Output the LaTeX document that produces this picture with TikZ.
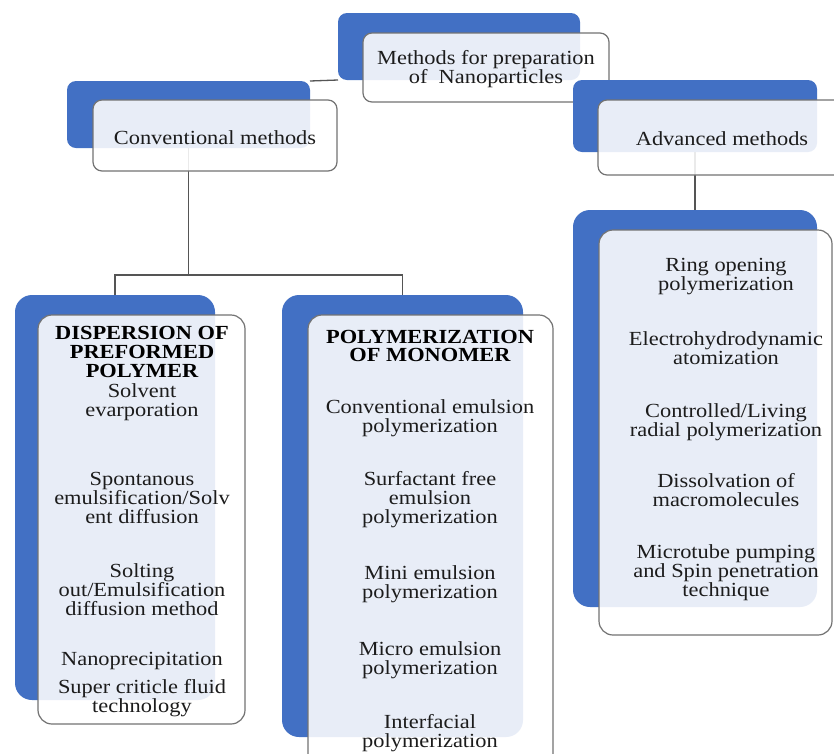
\documentclass[tikz,border=0pt]{standalone}
\usepackage{fontspec}
\setmainfont{Liberation Serif}[FakeStretch=1.12]
\definecolor{myblue}{RGB}{66,112,196}
\definecolor{boxline}{RGB}{115,115,115}
\definecolor{connline}{RGB}{85,85,85}
\definecolor{txtcol}{RGB}{28,28,28}
\pgfdeclarelayer{bg}
\pgfsetlayers{bg,main}
\tikzset{
  bbox/.style={anchor=north west, inner sep=0pt, outer sep=0pt, fill=myblue, draw=none, rounded corners=9pt},
  bcol/.style={bbox, rounded corners=17pt},
  wbox/.style={anchor=north west, inner sep=0pt, outer sep=0pt, fill=white, fill opacity=0.88, draw=boxline, line width=1.2pt, rounded corners=9pt},
  wcol/.style={wbox, rounded corners=14pt},
  txt/.style={align=center, inner sep=0pt, text=txtcol, font=\fontsize{20}{19}\selectfont},
  hdr/.style={txt, font=\fontsize{20}{18.6}\selectfont\bfseries, text=black},
  conn/.style={draw=connline, line width=1.3pt}
}
\begin{document}
\begin{tikzpicture}[x=1pt,y=-1pt]
\useasboundingbox (0,0) rectangle (834,753);
\clip (0,0) rectangle (834,753);
% top
\node[bbox, minimum width=242, minimum height=67] (topb) at (338,13) {};
\node[wbox, minimum width=246, minimum height=69] (topw) at (363,33) {};
\node[txt] (toptxt) at (486,69) {Methods for preparation\\of~ Nanoparticles};
% conventional
\node[bbox, minimum width=243, minimum height=67] (convb) at (67,81) {};
\node[wbox, minimum width=244, minimum height=71] (convw) at (93,100) {};
\node[txt] (convtxt) at (215,138) {Conventional methods};
% advanced
\node[bbox, minimum width=244, minimum height=72] (advb) at (573,80) {};
\node[wbox, minimum width=250, minimum height=75] (advw) at (598,100) {};
\node[txt] (advtxt) at (722,139) {Advanced methods};
% left column
\node[bcol, minimum width=200, minimum height=405] (leftb) at (15,295) {};
\node[wcol, minimum width=207, minimum height=409] (leftw) at (38,315) {};
% middle column
\node[bcol, minimum width=241, minimum height=442] (midb) at (282,295) {};
\node[wcol, minimum width=245, minimum height=455] (midw) at (308,315) {};
% right column
\node[bcol, minimum width=244, minimum height=397] (rightb) at (573,210) {};
\node[wcol, minimum width=233, minimum height=405] (rightw) at (599,230) {};
% connectors
\coordinate (j) at (188,275);
\begin{pgfonlayer}{bg}
\fill[white] (0,0) rectangle (834,753);
\draw[conn] (convb.north east) -- (topb.south west);
\draw[conn] (convb.center) -- (convb.center |- j);
\draw[conn] (leftb.center) |- (j) -| (midb.center);
\draw[conn] (advb.center) -- (rightb.center);
\end{pgfonlayer}
% left texts
\node[hdr] (l0) at (142,352) {DISPERSION OF\\PREFORMED\\POLYMER};
\node[txt] (l1) at (142,402) {Solvent\\evarporation};
\node[txt] (l2) at (142,498) {Spontanous\\emulsification/Solv\\ent diffusion};
\node[txt] (l3) at (142,590) {Solting\\out/Emulsification\\diffusion method};
\node[txt] (l4) at (142,661) {Nanoprecipitation};
\node[txt] (l5) at (142,698) {Super criticle fluid\\technology};
% middle texts
\node[hdr] (m0) at (430,346) {POLYMERIZATION\\OF MONOMER};
\node[txt] (m1) at (430,418) {Conventional emulsion\\polymerization};
\node[txt] (m2) at (430,500) {Surfactant free\\emulsion\\polymerization};
\node[txt] (m3) at (430,584) {Mini emulsion\\polymerization};
\node[txt] (m4) at (430,660) {Micro emulsion\\polymerization};
\node[txt] (m5) at (430,733) {Interfacial\\polymerization};
% right texts
\node[txt] (r1) at (726,277) {Ring opening\\polymerization};
\node[txt] (r2) at (726,348) {Electrohydrodynamic\\atomization};
\node[txt] (r3) at (726,422) {Controlled/Living\\radial polymerization};
\node[txt] (r4) at (726,490) {Dissolvation of\\macromolecules};
\node[txt] (r5) at (726,573) {Microtube pumping\\and Spin penetration\\technique};
\end{tikzpicture}
\end{document}
